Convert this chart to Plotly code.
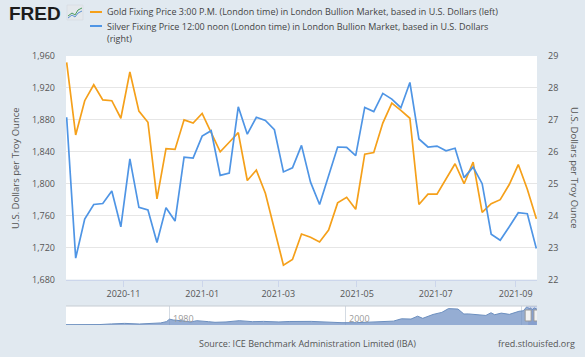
import plotly.graph_objects as go

# ---------------- data ----------------
dates = ["2020-09-18", "2020-09-25", "2020-10-02", "2020-10-09", "2020-10-16", "2020-10-23",
         "2020-10-30", "2020-11-06", "2020-11-13", "2020-11-20", "2020-11-27", "2020-12-04",
         "2020-12-11", "2020-12-18", "2020-12-25", "2021-01-01", "2021-01-08", "2021-01-15",
         "2021-01-22", "2021-01-29", "2021-02-05", "2021-02-12", "2021-02-19", "2021-02-26",
         "2021-03-05", "2021-03-12", "2021-03-19", "2021-03-26", "2021-04-02", "2021-04-09",
         "2021-04-16", "2021-04-23", "2021-04-30", "2021-05-07", "2021-05-14", "2021-05-21",
         "2021-05-28", "2021-06-04", "2021-06-11", "2021-06-18", "2021-06-25", "2021-07-02",
         "2021-07-09", "2021-07-16", "2021-07-23", "2021-07-30", "2021-08-06", "2021-08-13",
         "2021-08-20", "2021-08-27", "2021-09-03", "2021-09-10", "2021-09-17"]

gold = [1952, 1861, 1904, 1924, 1905, 1904, 1882, 1940, 1891, 1877,
        1781, 1844, 1843, 1880, 1876, 1888, 1864, 1840, 1852, 1864,
        1804, 1817, 1788, 1742, 1698, 1705, 1737, 1733, 1727, 1742,
        1776, 1783, 1768, 1837, 1839, 1876, 1901, 1892, 1882, 1774,
        1787, 1787, 1806, 1825, 1800, 1827, 1764, 1775, 1780, 1799,
        1824, 1793, 1756]

silver = [27.08, 22.67, 23.89, 24.35, 24.38, 24.77, 23.65, 25.78, 24.26, 24.18,
          23.16, 24.25, 23.83, 25.83, 25.80, 26.49, 26.66, 25.26, 25.33, 27.41,
          26.55, 27.08, 26.98, 26.69, 25.37, 25.50, 26.20, 25.05, 24.35, 25.26,
          26.15, 26.14, 25.88, 27.39, 27.26, 27.83, 27.65, 27.38, 28.17, 26.40,
          26.15, 26.18, 26.03, 26.11, 25.19, 25.52, 25.00, 23.42, 23.23, 23.65,
          24.09, 24.06, 22.97]

nav_dates = ["1968-04-01", "1970-01-01", "1972-01-01", "1973-06-01", "1974-12-01", "1976-08-01",
             "1978-01-01", "1979-01-01", "1979-09-01", "1980-01-01", "1980-06-01", "1981-01-01",
             "1981-09-01", "1982-06-01", "1983-02-01", "1984-06-01", "1985-03-01", "1986-06-01",
             "1987-12-01", "1989-06-01", "1990-09-01", "1992-06-01", "1993-08-01", "1996-02-01",
             "1997-12-01", "1999-08-01", "2001-04-01", "2002-06-01", "2003-12-01", "2005-06-01",
             "2006-05-01", "2007-06-01", "2008-03-01", "2008-10-01", "2009-12-01", "2010-12-01",
             "2011-09-01", "2012-10-01", "2013-06-01", "2013-12-01", "2015-12-01", "2016-07-01",
             "2016-12-01", "2017-09-01", "2018-08-01", "2019-09-01", "2020-03-01", "2020-08-01",
             "2020-11-01", "2021-01-01", "2021-03-01", "2021-06-01", "2021-09-17"]
nav_values = [38, 35, 45, 120, 180, 110, 170, 230, 380, 650, 560, 520,
              440, 330, 480, 370, 300, 340, 480, 370, 400, 340, 390, 400,
              290, 255, 260, 320, 410, 430, 690, 660, 980, 740, 1170, 1400,
              1820, 1770, 1220, 1230, 1060, 1360, 1140, 1320, 1180, 1520, 1580, 2050,
              1800, 1900, 1690, 1890, 1760]

left_ticks = [1680, 1720, 1760, 1800, 1840, 1880, 1920, 1960]
right_ticks = [22, 23, 24, 25, 26, 27, 28, 29]
x_ticks = ["2020-11-01", "2021-01-01", "2021-03-01", "2021-05-01", "2021-07-01", "2021-09-01"]
x_tick_labels = ["2020-11", "2021-01", "2021-03", "2021-05", "2021-07", "2021-09"]
nav_ticks = ["1980-01-01", "2000-01-01", "2020-01-01"]
nav_tick_labels = ["1980", "2000"]

gold_name = "Gold Fixing Price 3:00 P.M. (London time) in London Bullion Market, based in U.S. Dollars (left)"
silver_name_1 = "Silver Fixing Price 12:00 noon (London time) in London Bullion Market, based in U.S. Dollars"
silver_name_2 = "(right)"
axis_title = "U.S. Dollars per Troy Ounce"
source_text = "Source: ICE Benchmark Administration Limited (IBA)"
site_text = "fred.stlouisfed.org"

# ---------------- geometry helpers ----------------
W, H = 585, 357
ML, MR, MT, MB = 66, 48, 56, 32
PW, PH = W - ML - MR, H - MT - MB


def px(x):
    return (x - ML) / PW


def py(y):
    return (H - MB - y) / PH


GOLD = "#f5a01a"
SILVER = "#4f95e5"
BG = "#e1e9f0"
TXT = "#555555"
FONT = "Open Sans"

fig = go.Figure()
fig.add_trace(go.Scatter(x=dates, y=gold, mode="lines", line=dict(color=GOLD, width=1.7),
                         name=gold_name, xaxis="x", yaxis="y"))
fig.add_trace(go.Scatter(x=dates, y=silver, mode="lines", line=dict(color=SILVER, width=1.7),
                         name=silver_name_1, xaxis="x", yaxis="y2"))
fig.add_trace(go.Scatter(x=nav_dates, y=nav_values, mode="lines", fill="tozeroy",
                         line=dict(color="#6c8fbf", width=1), fillcolor="rgba(114,146,196,0.75)",
                         xaxis="x2", yaxis="y3", showlegend=False, hoverinfo="skip"))

main_bottom = py(279.5)
nav_top = py(306)

fig.update_layout(
    template="none",
    width=W, height=H,
    margin=dict(l=ML, r=MR, t=MT, b=MB, autoexpand=False),
    paper_bgcolor=BG, plot_bgcolor="white",
    showlegend=False,
    font=dict(family=FONT, size=9, color=TXT),
    xaxis=dict(domain=[0, 1], anchor="y", range=["2020-09-17 12:00", "2021-09-17 12:00"],
               tickvals=x_ticks, ticktext=x_tick_labels, ticks="outside", ticklen=6,
               tickcolor="#ccd6eb", showgrid=False, showline=True, linecolor="#ccd6eb",
               tickfont=dict(size=9, color=TXT), zeroline=False, automargin=False),
    yaxis=dict(domain=[main_bottom, 1], anchor="x", range=[1680, 1960], tickvals=left_ticks,
               ticktext=[f"{v:,}" for v in left_ticks], showgrid=True, gridcolor="#e6e6e6",
               gridwidth=1, zeroline=False, tickfont=dict(size=9, color=TXT), ticks="",
               ticklabelstandoff=10, automargin=False, showline=False),
    yaxis2=dict(overlaying="y", side="right", anchor="x", range=[22, 29], tickvals=right_ticks,
                showgrid=False, zeroline=False, tickfont=dict(size=9, color=TXT), ticks="",
                ticklabelstandoff=10, automargin=False, showline=False),
    xaxis2=dict(domain=[0, 1], anchor="y3", range=["1968-04-01", "2021-09-20"],
                tickvals=nav_ticks, showticklabels=False, showgrid=True, gridcolor="#d4dbe3",
                showline=False, zeroline=False, fixedrange=True, automargin=False, ticks=""),
    yaxis3=dict(domain=[0, nav_top], anchor="x2", range=[0, 2110], showticklabels=False,
                showgrid=False, zeroline=False, fixedrange=True, automargin=False, ticks="",
                showline=False),
)

shapes = []
annotations = []

# navigator top border
shapes.append(dict(type="line", xref="paper", yref="paper", x0=0, x1=1, y0=nav_top, y1=nav_top,
                   line=dict(color="#c6ccd3", width=1)))
# navigator selected range and handles
shapes.append(dict(type="rect", xref="x2", yref="paper", x0=dates[0], x1=dates[-1], y0=0, y1=nav_top,
                   fillcolor="rgba(102,133,194,0.3)", line=dict(width=0)))
for d in (dates[0], dates[-1]):
    shapes.append(dict(type="rect", xref="x2", yref="paper", xsizemode="pixel", xanchor=d,
                       x0=-3, x1=3, y0=py(321), y1=py(310),
                       fillcolor="#f2f2f2", line=dict(color="#999999", width=1)))

# legend symbols
shapes.append(dict(type="line", xref="paper", yref="paper", x0=px(90), x1=px(102), y0=py(12), y1=py(12),
                   line=dict(color=GOLD, width=2)))
shapes.append(dict(type="line", xref="paper", yref="paper", x0=px(90), x1=px(102), y0=py(26), y1=py(26),
                   line=dict(color=SILVER, width=2)))

# FRED icon
shapes.append(dict(type="rect", xref="paper", yref="paper", x0=px(67), x1=px(83), y0=py(20), y1=py(5),
                   fillcolor="#e4e8ec", line=dict(color="#d0d6dc", width=0.5)))
shapes.append(dict(type="path", xref="paper", yref="paper",
                   path=f"M {px(68)},{py(16)} L {px(72)},{py(13)} L {px(75)},{py(15)} L {px(78)},{py(10)} L {px(82)},{py(8)}",
                   line=dict(color="#4b9a5d", width=1)))
shapes.append(dict(type="path", xref="paper", yref="paper",
                   path=f"M {px(68)},{py(18)} L {px(72)},{py(15)} L {px(75)},{py(17)} L {px(78)},{py(13)} L {px(82)},{py(11)}",
                   line=dict(color="#5a8fd0", width=1)))

annotations.append(dict(text="<b>FRED</b>", xref="paper", yref="paper", x=px(7), y=py(13),
                        xanchor="left", yanchor="middle", showarrow=False,
                        font=dict(family="Liberation Sans", size=19, color="#1c1c1c")))

# legend text
for txt, yy in ((gold_name, 12), (silver_name_1, 26), (silver_name_2, 39)):
    annotations.append(dict(text=txt, xref="paper", yref="paper", x=px(105), y=py(yy),
                            xanchor="left", yanchor="middle", showarrow=False,
                            font=dict(family=FONT, size=9, color="#444444")))

# axis titles
annotations.append(dict(text=axis_title, xref="paper", yref="paper", x=px(15), y=py(168),
                        xanchor="center", yanchor="middle", textangle=-90, showarrow=False,
                        font=dict(family=FONT, size=9.5, color=TXT)))
annotations.append(dict(text=axis_title, xref="paper", yref="paper", x=px(575), y=py(168),
                        xanchor="center", yanchor="middle", textangle=90, showarrow=False,
                        font=dict(family=FONT, size=9.5, color=TXT)))

# navigator labels
for d, lbl in zip(nav_ticks, nav_tick_labels):
    annotations.append(dict(text=lbl, xref="x2", yref="paper", x=d, y=py(318), xanchor="left",
                            yanchor="middle", xshift=1, showarrow=False,
                            font=dict(family=FONT, size=9, color="#999999")))

# source
annotations.append(dict(text=source_text, xref="paper", yref="paper", x=px(307), y=py(343),
                        xanchor="center", yanchor="middle", showarrow=False,
                        font=dict(family=FONT, size=9, color=TXT)))
annotations.append(dict(text=site_text, xref="paper", yref="paper", x=px(577), y=py(343),
                        xanchor="right", yanchor="middle", showarrow=False,
                        font=dict(family=FONT, size=9, color=TXT)))

fig.update_layout(shapes=shapes, annotations=annotations)
fig.write_html("out.html", config={"displayModeBar": False},
               post_script="document.body.style.margin='0';document.body.style.background='#e1e9f0';")
